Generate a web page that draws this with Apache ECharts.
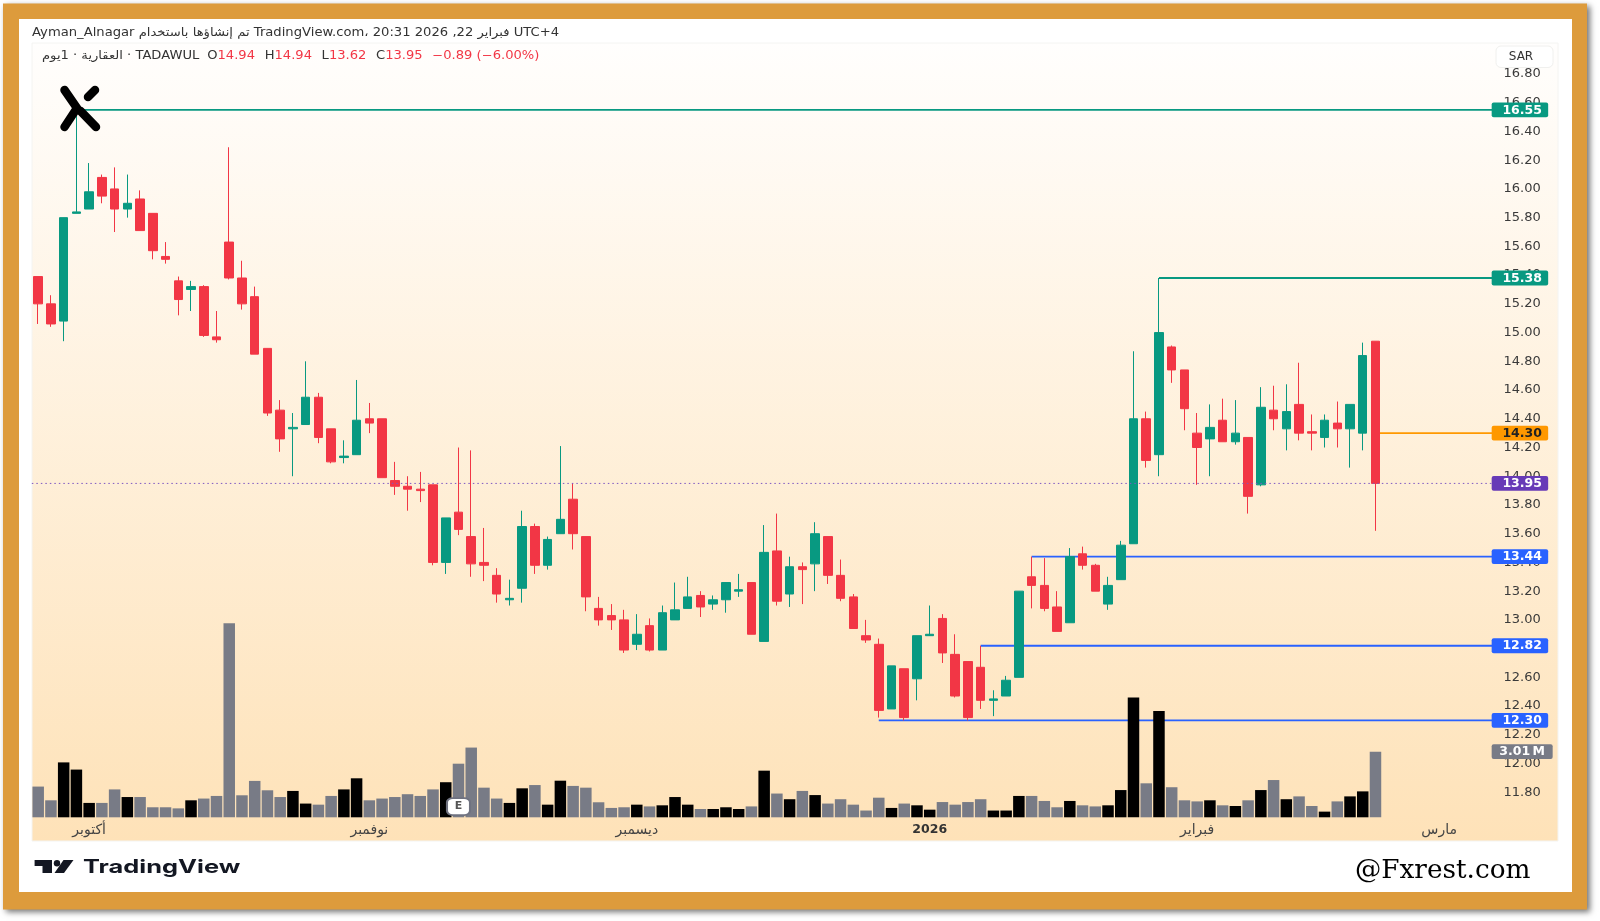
<!DOCTYPE html>
<html>
<head>
<meta charset="utf-8">
<title>TADAWUL chart</title>
<style>
  html, body { margin: 0; padding: 0; background: #fff; }
  #chart { width: 1600px; height: 921px; }
</style>
<script src="https://cdn.jsdelivr.net/npm/echarts@6/dist/echarts.min.js"></script>
</head>
<body>
<div id="chart"></div>
<script>
// daily candles
const opens = [15.39,15.20,15.08,15.83,15.86,16.08,16.00,15.86,15.93,15.83,15.53,15.36,15.30,15.32,14.97,15.63,15.38,15.25,14.89,14.46,
  14.33,14.36,14.55,14.33,14.13,14.15,14.40,14.40,13.97,13.93,13.91,13.94,13.40,13.75,13.58,13.40,13.31,13.14,13.22,13.65,
  13.38,13.60,13.84,13.58,13.08,13.03,13.00,12.83,12.96,12.79,13.00,13.08,13.17,13.11,13.14,13.20,13.26,12.85,13.48,13.18,
  13.37,13.39,13.58,13.31,13.16,12.89,12.83,12.38,12.66,12.59,12.89,13.01,12.76,12.71,12.67,12.44,12.47,12.60,13.30,13.24,
  13.09,12.98,13.46,13.38,13.11,13.28,13.53,14.40,14.15,14.90,14.74,14.30,14.26,14.39,14.24,14.27,13.94,14.46,14.33,14.50,
  14.31,14.27,14.37,14.33,14.30,14.94];
const closes = [15.20,15.06,15.80,15.84,15.98,15.95,15.86,15.90,15.71,15.57,15.51,15.23,15.32,14.98,14.95,15.38,15.20,14.85,14.44,14.26,
  14.34,14.55,14.27,14.10,14.14,14.39,14.37,13.99,13.93,13.91,13.90,13.40,13.71,13.63,13.39,13.38,13.18,13.15,13.65,13.38,
  13.56,13.70,13.60,13.16,13.00,13.00,12.79,12.90,12.79,13.05,13.07,13.16,13.09,13.14,13.26,13.21,12.90,13.47,13.13,13.37,
  13.35,13.60,13.31,13.15,12.94,12.86,12.37,12.68,12.32,12.89,12.90,12.77,12.47,12.32,12.44,12.45,12.58,13.20,13.24,13.08,
  12.92,13.44,13.38,13.20,13.24,13.52,14.40,14.11,15.00,14.74,14.47,14.20,14.34,14.24,14.30,13.86,14.48,14.40,14.45,14.30,
  14.30,14.39,14.33,14.50,14.84,13.95];
const highs = [15.39,15.26,15.80,16.55,16.18,16.10,16.15,16.10,15.99,15.83,15.63,15.39,15.36,15.33,15.15,16.29,15.50,15.32,14.89,14.53,
  14.44,14.80,14.58,14.33,14.25,14.67,14.51,14.40,14.10,14.00,14.03,13.94,13.71,14.20,14.18,13.64,13.36,13.28,13.76,13.67,
  13.58,14.21,13.95,13.58,13.16,13.11,13.07,13.04,13.01,13.10,13.26,13.30,13.20,13.17,13.26,13.32,13.26,13.66,13.74,13.44,
  13.40,13.68,13.58,13.42,13.18,13.00,12.87,12.68,12.66,12.89,13.10,13.04,12.90,12.71,12.82,12.51,12.61,13.20,13.44,13.43,
  13.20,13.50,13.51,13.39,13.30,13.55,14.87,14.45,15.38,14.91,14.74,14.44,14.50,14.54,14.53,14.27,14.62,14.63,14.64,14.79,
  14.43,14.43,14.52,14.50,14.93,14.94];
const lows = [15.06,15.04,14.94,15.83,15.86,15.90,15.70,15.80,15.71,15.51,15.48,15.12,15.15,14.97,14.93,15.37,15.16,14.85,14.42,14.17,
  14.00,14.36,14.23,14.09,14.09,14.15,14.30,13.99,13.87,13.76,13.82,13.38,13.32,13.59,13.30,13.27,13.12,13.10,13.12,13.32,
  13.35,13.60,13.49,13.06,12.96,12.93,12.77,12.79,12.78,12.79,13.00,13.08,13.02,13.07,13.05,13.16,12.90,12.85,13.10,13.09,
  13.11,13.20,13.25,13.13,12.94,12.84,12.32,12.38,12.30,12.44,12.90,12.70,12.46,12.30,12.38,12.33,12.47,12.60,13.08,13.06,
  12.92,12.98,13.35,13.20,13.07,13.28,13.53,14.06,14.00,14.65,14.32,13.94,14.00,14.24,14.22,13.74,13.93,14.32,14.18,14.25,
  14.18,14.20,14.20,14.06,14.18,13.62];
// volume in millions
const volumes = [1.41,0.78,2.52,2.19,0.66,0.66,1.28,0.93,0.93,0.46,0.46,0.41,0.78,0.86,0.98,8.90,1.01,1.67,1.24,0.93,
  1.21,0.63,0.58,0.98,1.28,1.79,0.78,0.86,0.93,1.06,0.98,1.28,1.61,2.46,3.20,1.36,0.86,0.66,1.33,1.48,
  0.58,1.68,1.44,1.36,0.69,0.43,0.46,0.58,0.50,0.55,0.93,0.58,0.38,0.38,0.46,0.38,0.50,2.14,1.09,0.83,
  1.21,1.02,0.63,0.83,0.58,0.31,0.90,0.43,0.63,0.55,0.35,0.70,0.58,0.70,0.83,0.31,0.31,0.98,0.98,0.75,
  0.46,0.75,0.55,0.50,0.55,1.25,5.50,1.56,4.88,1.38,0.78,0.73,0.78,0.55,0.52,0.78,1.25,1.71,0.83,0.96,
  0.52,0.26,0.73,0.96,1.19,3.01];

// time axis, 106 sessions plus the empty days to the right
const sessionCount = 115;
const monthIndex = [4, 26, 47, 70, 91, 110];
const monthNames = ['أكتوبر', 'نوفمبر', 'ديسمبر', '2026', 'فبراير', 'مارس'];

// price levels: where the line starts, its value, its colour
const levelStarts = [3, 88, 105, 78, 74, 66];
const levelPrices = [16.55, 15.38, 14.30, 13.44, 12.82, 12.30];
const levelColors = ['#089981', '#089981', '#ff9800', '#2962ff', '#2962ff', '#2962ff'];
const levelTextColors = ['#fff', '#fff', '#222', '#fff', '#fff', '#fff'];
const lastClose = 13.95;
const lastVolume = 3.01;
const earningsAt = 33;

const UP = '#089981', DOWN = '#f23645';
const FONT = '"DejaVu Sans"';
const STEP = 12.736, LEFT = 31.83;   // one session is 12.736 px wide

const categories = [];
for (let i = 0; i < sessionCount; i++) categories.push(String(i));

// the tag sits a little to the left of the grid edge, and hides the end of the line
function tagItem(params, api, price, text, bg, fg, w) {
  const c = api.coord([0, price]);
  const x = params.coordSys.x + params.coordSys.width - 4.8;
  return {
    type: 'group',
    children: [
      { type: 'rect', shape: { x: x, y: c[1] - 7.4, width: w, height: 14.8, r: 2 }, style: { fill: bg } },
      { type: 'text', style: { text: text, x: x + 30.5, y: c[1] + 0.5, fill: fg, align: 'center', verticalAlign: 'middle',
        font: 'bold 12.5px ' + FONT } }
    ]
  };
}

function lineItem(params, api, color, width, dash, fromEdge) {
  const from = api.coord([api.value(0), api.value(1)]);
  const right = params.coordSys.x + params.coordSys.width;
  return { type: 'line', shape: { x1: fromEdge ? params.coordSys.x : from[0], y1: from[1], x2: right, y2: from[1] },
    style: { stroke: color, lineWidth: width, lineDash: dash } };
}

const chart = echarts.init(document.getElementById('chart'), null, { renderer: 'canvas' });

chart.setOption({
  animation: false,
  backgroundColor: '#fff',
  textStyle: { fontFamily: FONT },
  grid: [
    { left: LEFT, width: STEP * sessionCount, top: 45.27, height: 775.73, containLabel: false },
    { left: LEFT, width: STEP * sessionCount, top: 599.4, height: 217.9, containLabel: false }
  ],
  xAxis: [
    { type: 'category', gridIndex: 0, data: categories, show: false },
    { type: 'category', gridIndex: 1, data: categories,
      axisLine: { show: false }, axisTick: { show: false }, splitLine: { show: false },
      axisLabel: {
        interval: 0, margin: 6, color: '#444', fontSize: 14, fontFamily: FONT,
        formatter: (v, i) => {
          const k = monthIndex.indexOf(i);
          if (k < 0) return '';
          return monthNames[k] === '2026' ? '{b|2026}' : monthNames[k];
        },
        rich: { b: { fontWeight: 'bold', fontSize: 12.5, fontFamily: FONT, color: '#333' } }
      } }
  ],
  yAxis: [
    { type: 'value', gridIndex: 0, position: 'right', min: 11.6, max: 17, interval: 0.2,
      axisLine: { show: false }, axisTick: { show: false }, splitLine: { show: false },
      axisLabel: { margin: 7, color: '#3a3a3a', fontSize: 13, fontFamily: FONT, showMinLabel: false, showMaxLabel: false,
        padding: [3.5, 0, 0, 0], formatter: v => v.toFixed(2) } },
    { type: 'value', gridIndex: 1, min: 0, max: 10, show: false }
  ],
  series: [
    { name: 'levels', type: 'custom', xAxisIndex: 0, yAxisIndex: 0, clip: false, z: 1,
      encode: { x: 0, y: 1 },
      data: levelPrices.map((p, i) => [levelStarts[i], p]),
      renderItem: (params, api) => lineItem(params, api, levelColors[params.dataIndex], 1.8) },
    { name: 'price', type: 'candlestick', xAxisIndex: 0, yAxisIndex: 0, z: 2, barWidth: 9,
      data: opens.map((o, i) => [o, closes[i], lows[i], highs[i]]),
      itemStyle: { color: UP, color0: DOWN, borderColor: UP, borderColor0: DOWN, borderWidth: 1 } },
    { name: 'close', type: 'custom', xAxisIndex: 0, yAxisIndex: 0, clip: false, z: 3,
      encode: { x: 0, y: 1 },
      data: [[0, lastClose]],
      renderItem: (params, api) => lineItem(params, api, '#7e57c2', 1, [1.5, 3], true) },
    { name: 'volume', type: 'bar', xAxisIndex: 1, yAxisIndex: 1, z: 4, barWidth: 11.5,
      data: volumes.map((v, i) => ({
        value: v,
        itemStyle: { color: closes[i] >= opens[i] ? '#000' : '#787b86' }
      })),
      markPoint: {
        symbol: 'roundRect', symbolSize: [23, 17],
        itemStyle: { color: '#fff', borderColor: '#6f7280', borderWidth: 1.8 },
        label: { formatter: 'E', color: '#555', fontSize: 11, fontWeight: 'bold', fontFamily: FONT },
        data: [{ coord: [earningsAt, 0.49] }]
      } },
    { name: 'priceTags', type: 'custom', xAxisIndex: 0, yAxisIndex: 0, clip: false, z: 6,
      encode: { x: 0, y: 1 },
      data: levelPrices.concat([lastClose]).map(p => [0, p]),
      renderItem: (params, api) => {
        const i = params.dataIndex, p = api.value(1);
        const isClose = i === levelPrices.length;
        return tagItem(params, api, p, p.toFixed(2), isClose ? '#673ab7' : levelColors[i],
          isClose ? '#fff' : levelTextColors[i], 56.5);
      } },
    { name: 'volumeTag', type: 'custom', xAxisIndex: 1, yAxisIndex: 1, clip: false, z: 6,
      encode: { x: 0, y: 1 },
      data: [[0, lastVolume]],
      renderItem: (params, api) => tagItem(params, api, api.value(1), '3.01\u2009M', '#787b86', '#fff', 61) }
  ],
  graphic: { elements: [
    // frame, panel
    { type: 'rect', z: -20, silent: true, shape: { x: 3, y: 3.5, width: 1584, height: 906 },
      style: { fill: '#dd9b3c', shadowBlur: 6, shadowColor: 'rgba(0,0,0,0.55)', shadowOffsetX: 3, shadowOffsetY: 2 } },
    { type: 'rect', z: -19, silent: true, shape: { x: 19, y: 19, width: 1553, height: 873 }, style: { fill: '#fff' } },
    { type: 'rect', z: -18, silent: true, shape: { x: 32, y: 43, width: 1526, height: 798 },
      style: { stroke: '#f4f4f2', lineWidth: 1,
        fill: new echarts.graphic.LinearGradient(0, 0, 0, 1, [
          { offset: 0, color: '#fffefd' }, { offset: 1, color: '#fee2b8' }
        ]) } },
    // header lines (the source picture is stretched sideways, hence scaleX)
    { type: 'text', z: 10, silent: true, x: 32, y: 33, scaleX: 1.134,
      style: { text: 'Ayman_Alnagar تم إنشاؤها باستخدام TradingView.com، 20:31 2026 ,22 فبراير UTC+4',
        font: '11.6px ' + FONT, fill: '#333', verticalAlign: 'middle' } },
    { type: 'text', z: 10, silent: true, x: 42, y: 55.7, scaleX: 1.13,
      style: { text: '{d|العقارية · 1يوم · TADAWUL}{g| }{d|O}{r|14.94}{h| }{d|H}{r|14.94}{h| }{d|L}{r|13.62}{h| }{d|C}{r|13.95}{h| }{r|−0.89 (−6.00%)}',
        verticalAlign: 'middle',
        rich: {
          d: { font: '11.6px ' + FONT, fill: '#333' }, r: { font: '11.6px ' + FONT, fill: '#f23645' },
          g: { width: 7, font: '11.6px ' + FONT }, h: { width: 8.5, font: '11.6px ' + FONT }
        } } },
    // currency button
    { type: 'rect', z: 7, silent: true, shape: { x: 1496, y: 46, width: 57, height: 21.5, r: 5 },
      style: { fill: '#fff', stroke: '#f0f0ee', lineWidth: 1 } },
    { type: 'text', z: 8, silent: true, x: 1521, y: 57,
      style: { text: 'SAR', font: '12px ' + FONT, fill: '#333', align: 'center', verticalAlign: 'middle' } },
    // X logo
    { type: 'polyline', z: 9, silent: true, shape: { points: [[64.5, 90], [77, 108], [64.5, 127]] },
      style: { stroke: '#000', lineWidth: 8.5, lineCap: 'round', lineJoin: 'miter', fill: null } },
    { type: 'polyline', z: 9, silent: true, shape: { points: [[95, 90], [88, 97]] },
      style: { stroke: '#000', lineWidth: 8.5, lineCap: 'round', fill: null } },
    { type: 'polyline', z: 9, silent: true, shape: { points: [[80.5, 111], [96, 127]] },
      style: { stroke: '#000', lineWidth: 8.5, lineCap: 'round', fill: null } },
    // TradingView mark + watermark
    { type: 'polygon', z: 9, silent: true, shape: { points: [[34.6, 860], [52, 860], [52, 873], [42.5, 873], [42.5, 866], [34.6, 866]] },
      style: { fill: '#131722' } },
    { type: 'circle', z: 9, silent: true, shape: { cx: 57, cy: 863.2, r: 3.2 }, style: { fill: '#131722' } },
    { type: 'polygon', z: 9, silent: true, shape: { points: [[63.5, 860], [73.5, 860], [64, 873], [54.5, 873]] }, style: { fill: '#131722' } },
    { type: 'text', z: 9, silent: true, x: 83, y: 867, scaleX: 1.21, scaleY: 0.88,
      style: { text: 'TradingView', font: 'bold 21px Inter', fill: '#131722', verticalAlign: 'middle' } },
    { type: 'text', z: 9, silent: true, x: 1355, y: 871,
      style: { text: '@Fxrest.com', font: '26.3px "DejaVu Serif"', fill: '#000', verticalAlign: 'middle' } }
  ] }
});
</script>
</body>
</html>
